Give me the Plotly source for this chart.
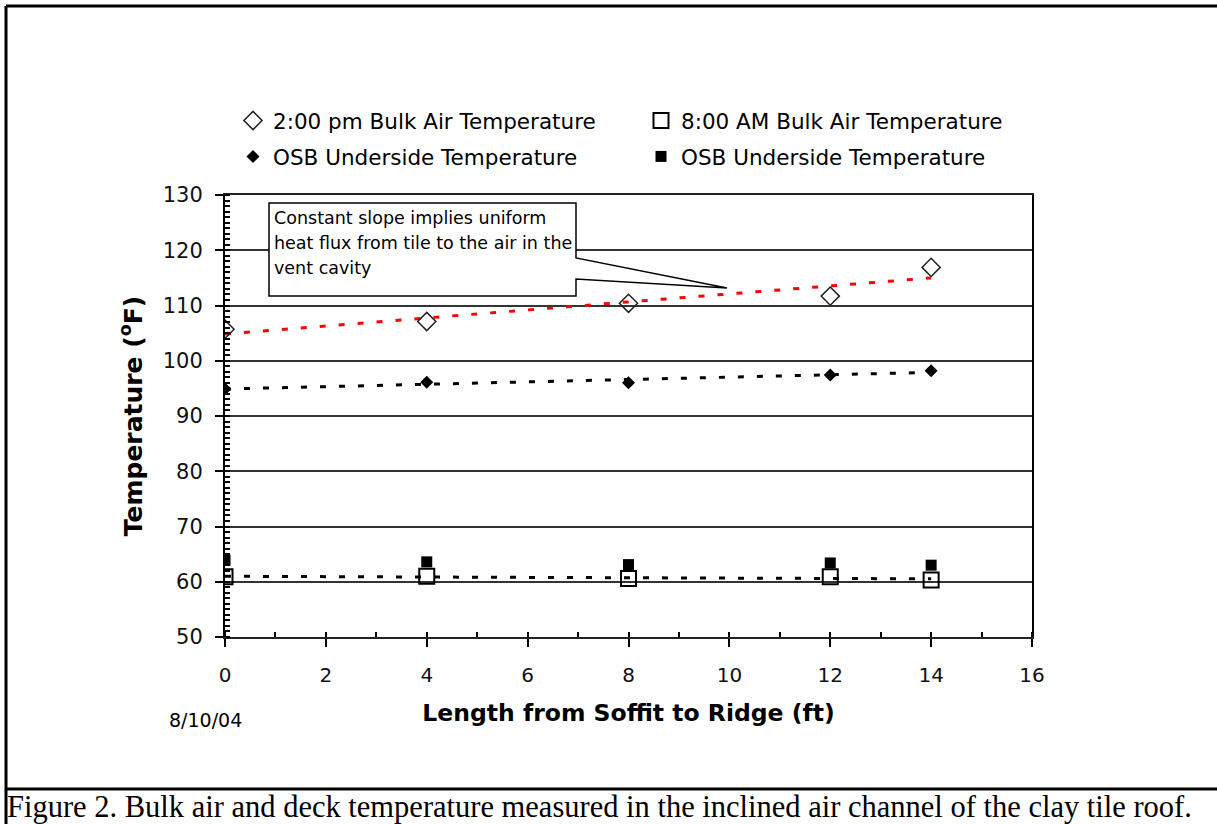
import numpy as np
import plotly.graph_objects as go

# ---------------- data ----------------
length_ft = [0, 4, 8, 12, 14]
bulk_2pm = [105.7, 107.1, 110.4, 111.7, 116.9]
osb_2pm = [94.9, 96.1, 96.0, 97.4, 98.2]
bulk_8am = [60.9, 61.0, 60.6, 60.9, 60.3]
osb_8am = [63.9, 63.6, 63.1, 63.4, 63.0]

x_ticks = [0, 2, 4, 6, 8, 10, 12, 14, 16]
y_ticks = [50, 60, 70, 80, 90, 100, 110, 120, 130]

names = ["2:00 pm Bulk Air Temperature", "8:00 AM Bulk Air Temperature",
         "OSB Underside Temperature", "OSB Underside Temperature"]
callout_lines = ["Constant slope implies uniform",
                 "heat flux from tile to the air in the",
                 "vent cavity"]
date_label = "8/10/04"
caption = ("Figure 2. Bulk air and deck temperature measured in the inclined "
           "air channel of the clay tile roof.")

# ---------------- geometry helpers (pixels -> paper) ----------------
W, H = 1217, 824
ML, MR, MT, MB = 225, 185, 195, 187
PW, PH = W - ML - MR, H - MT - MB


def px(x):
    return (x - ML) / PW


def py(y):
    return (H - MB - y) / PH


def trend(x, y):
    m, b = np.polyfit(x, y, 1)
    xs = [min(x), max(x)]
    return xs, [m * v + b for v in xs]


SANS = "DejaVu Sans"
fig = go.Figure()

# trendlines
for ys, col in [(bulk_2pm, "red"), (osb_2pm, "black"), (bulk_8am, "black")]:
    tx, ty = trend(length_ft, ys)
    fig.add_trace(go.Scatter(x=tx, y=ty, mode="lines", showlegend=False,
                             hoverinfo="skip",
                             line=dict(color=col, width=3, dash="6px,13px")))

# data series
fig.add_trace(go.Scatter(x=length_ft, y=bulk_2pm, mode="markers", name=names[0],
                         legend="legend", legendgroup="a",
                         marker=dict(symbol="diamond-open", size=14, color="#222",
                                     line=dict(width=1.5))))
fig.add_trace(go.Scatter(x=length_ft, y=osb_2pm, mode="markers", name=names[2],
                         legend="legend", legendgroup="b",
                         marker=dict(symbol="diamond", size=10, color="black")))
fig.add_trace(go.Scatter(x=length_ft, y=osb_8am, mode="markers", name=names[3],
                         legend="legend2", legendgroup="d", legendrank=2000,
                         marker=dict(symbol="square", size=11, color="black")))
fig.add_trace(go.Scatter(x=length_ft, y=bulk_8am, mode="markers", name=names[1],
                         legend="legend2", legendgroup="c", legendrank=1000,
                         marker=dict(symbol="square-open", size=15, color="black",
                                     line=dict(width=2))))

legend_common = dict(xanchor="left", yanchor="top", orientation="v",
                     font=dict(family=SANS, size=21.5, color="black"),
                     tracegroupgap=5, bgcolor="rgba(0,0,0,0)", itemwidth=30,
                     borderwidth=0)

shapes = []
line_style = dict(color="black", width=3)
# outer frame
shapes.append(dict(type="line", xref="paper", yref="paper",
                   x0=px(6), x1=px(W + 5), y0=py(6), y1=py(6), line=line_style))
shapes.append(dict(type="line", xref="paper", yref="paper",
                   x0=px(6), x1=px(6), y0=py(6), y1=py(H + 5), line=line_style))
shapes.append(dict(type="line", xref="paper", yref="paper",
                   x0=px(6), x1=px(W + 5), y0=py(789), y1=py(789), line=line_style))
# callout box
pts = [(269, 203), (576, 203), (576, 258), (727, 288), (576, 279), (576, 296), (269, 296)]
path = "M " + " L ".join(f"{px(a):.5f},{py(b):.5f}" for a, b in pts) + " Z"
shapes.append(dict(type="path", xref="paper", yref="paper", path=path,
                   fillcolor="white", line=dict(color="black", width=1.5),
                   layer="above"))

annotations = []
for i, t in enumerate(callout_lines):
    annotations.append(dict(text=t, xref="paper", yref="paper", x=px(272),
                            y=py(218 + 25 * i), xanchor="left", yanchor="middle",
                            showarrow=False,
                            font=dict(family=SANS, size=17.5, color="black")))
annotations.append(dict(text=date_label, xref="paper", yref="paper", x=px(205),
                        y=py(720), xanchor="center", yanchor="middle",
                        showarrow=False,
                        font=dict(family=SANS, size=19, color="black")))
annotations.append(dict(text=caption, xref="paper", yref="paper", x=px(5),
                        y=py(807), xanchor="left", yanchor="middle",
                        showarrow=False,
                        font=dict(family="Liberation Serif", size=30.5, color="black")))

fig.update_layout(
    width=W, height=H,
    margin=dict(l=ML, r=MR, t=MT, b=MB, autoexpand=False),
    paper_bgcolor="white", plot_bgcolor="white",
    legend=dict(x=px(233), y=py(100), **legend_common),
    legend2=dict(x=px(641), y=py(100), **legend_common),
    shapes=shapes, annotations=annotations,
    xaxis=dict(range=[0, 16], tickvals=x_ticks, ticktext=[str(v) for v in x_ticks],
               showgrid=False, zeroline=False,
               showline=True, linecolor="#222", linewidth=2, mirror=True,
               ticks="outside", ticklen=8, tickwidth=1.5, tickcolor="black",
               ticklabelstandoff=11,
               tickfont=dict(family=SANS, size=20, color="#111"),
               minor=dict(ticks="inside", ticklen=5, tickwidth=1.5,
                          tickcolor="black", dtick=1, tick0=0, showgrid=False),
               title=dict(text="<b>Length from Soffit to Ridge (ft)</b>",
                          standoff=19,
                          font=dict(family=SANS, size=23.5, color="black"))),
    yaxis=dict(range=[50, 130], tickvals=y_ticks, ticktext=[str(v) for v in y_ticks],
               showgrid=True, gridcolor="#333", gridwidth=2, zeroline=False,
               showline=True, linecolor="black", linewidth=2, mirror=True,
               ticks="outside", ticklen=8, tickwidth=2, tickcolor="black",
               ticklabelstandoff=8,
               tickfont=dict(family=SANS, size=21, color="#111"),
               minor=dict(ticks="inside", ticklen=5, tickwidth=1.5,
                          tickcolor="black", dtick=1, tick0=50, showgrid=False),
               title=dict(text="<b>Temperature (<sup>o</sup>F)</b>",
                          standoff=13,
                          font=dict(family=SANS, size=25, color="black"))),
)

fig.write_html("out.html", config={"displayModeBar": False},
               post_script="document.body.style.margin='0px';"
                           "document.body.style.overflow='hidden';")
